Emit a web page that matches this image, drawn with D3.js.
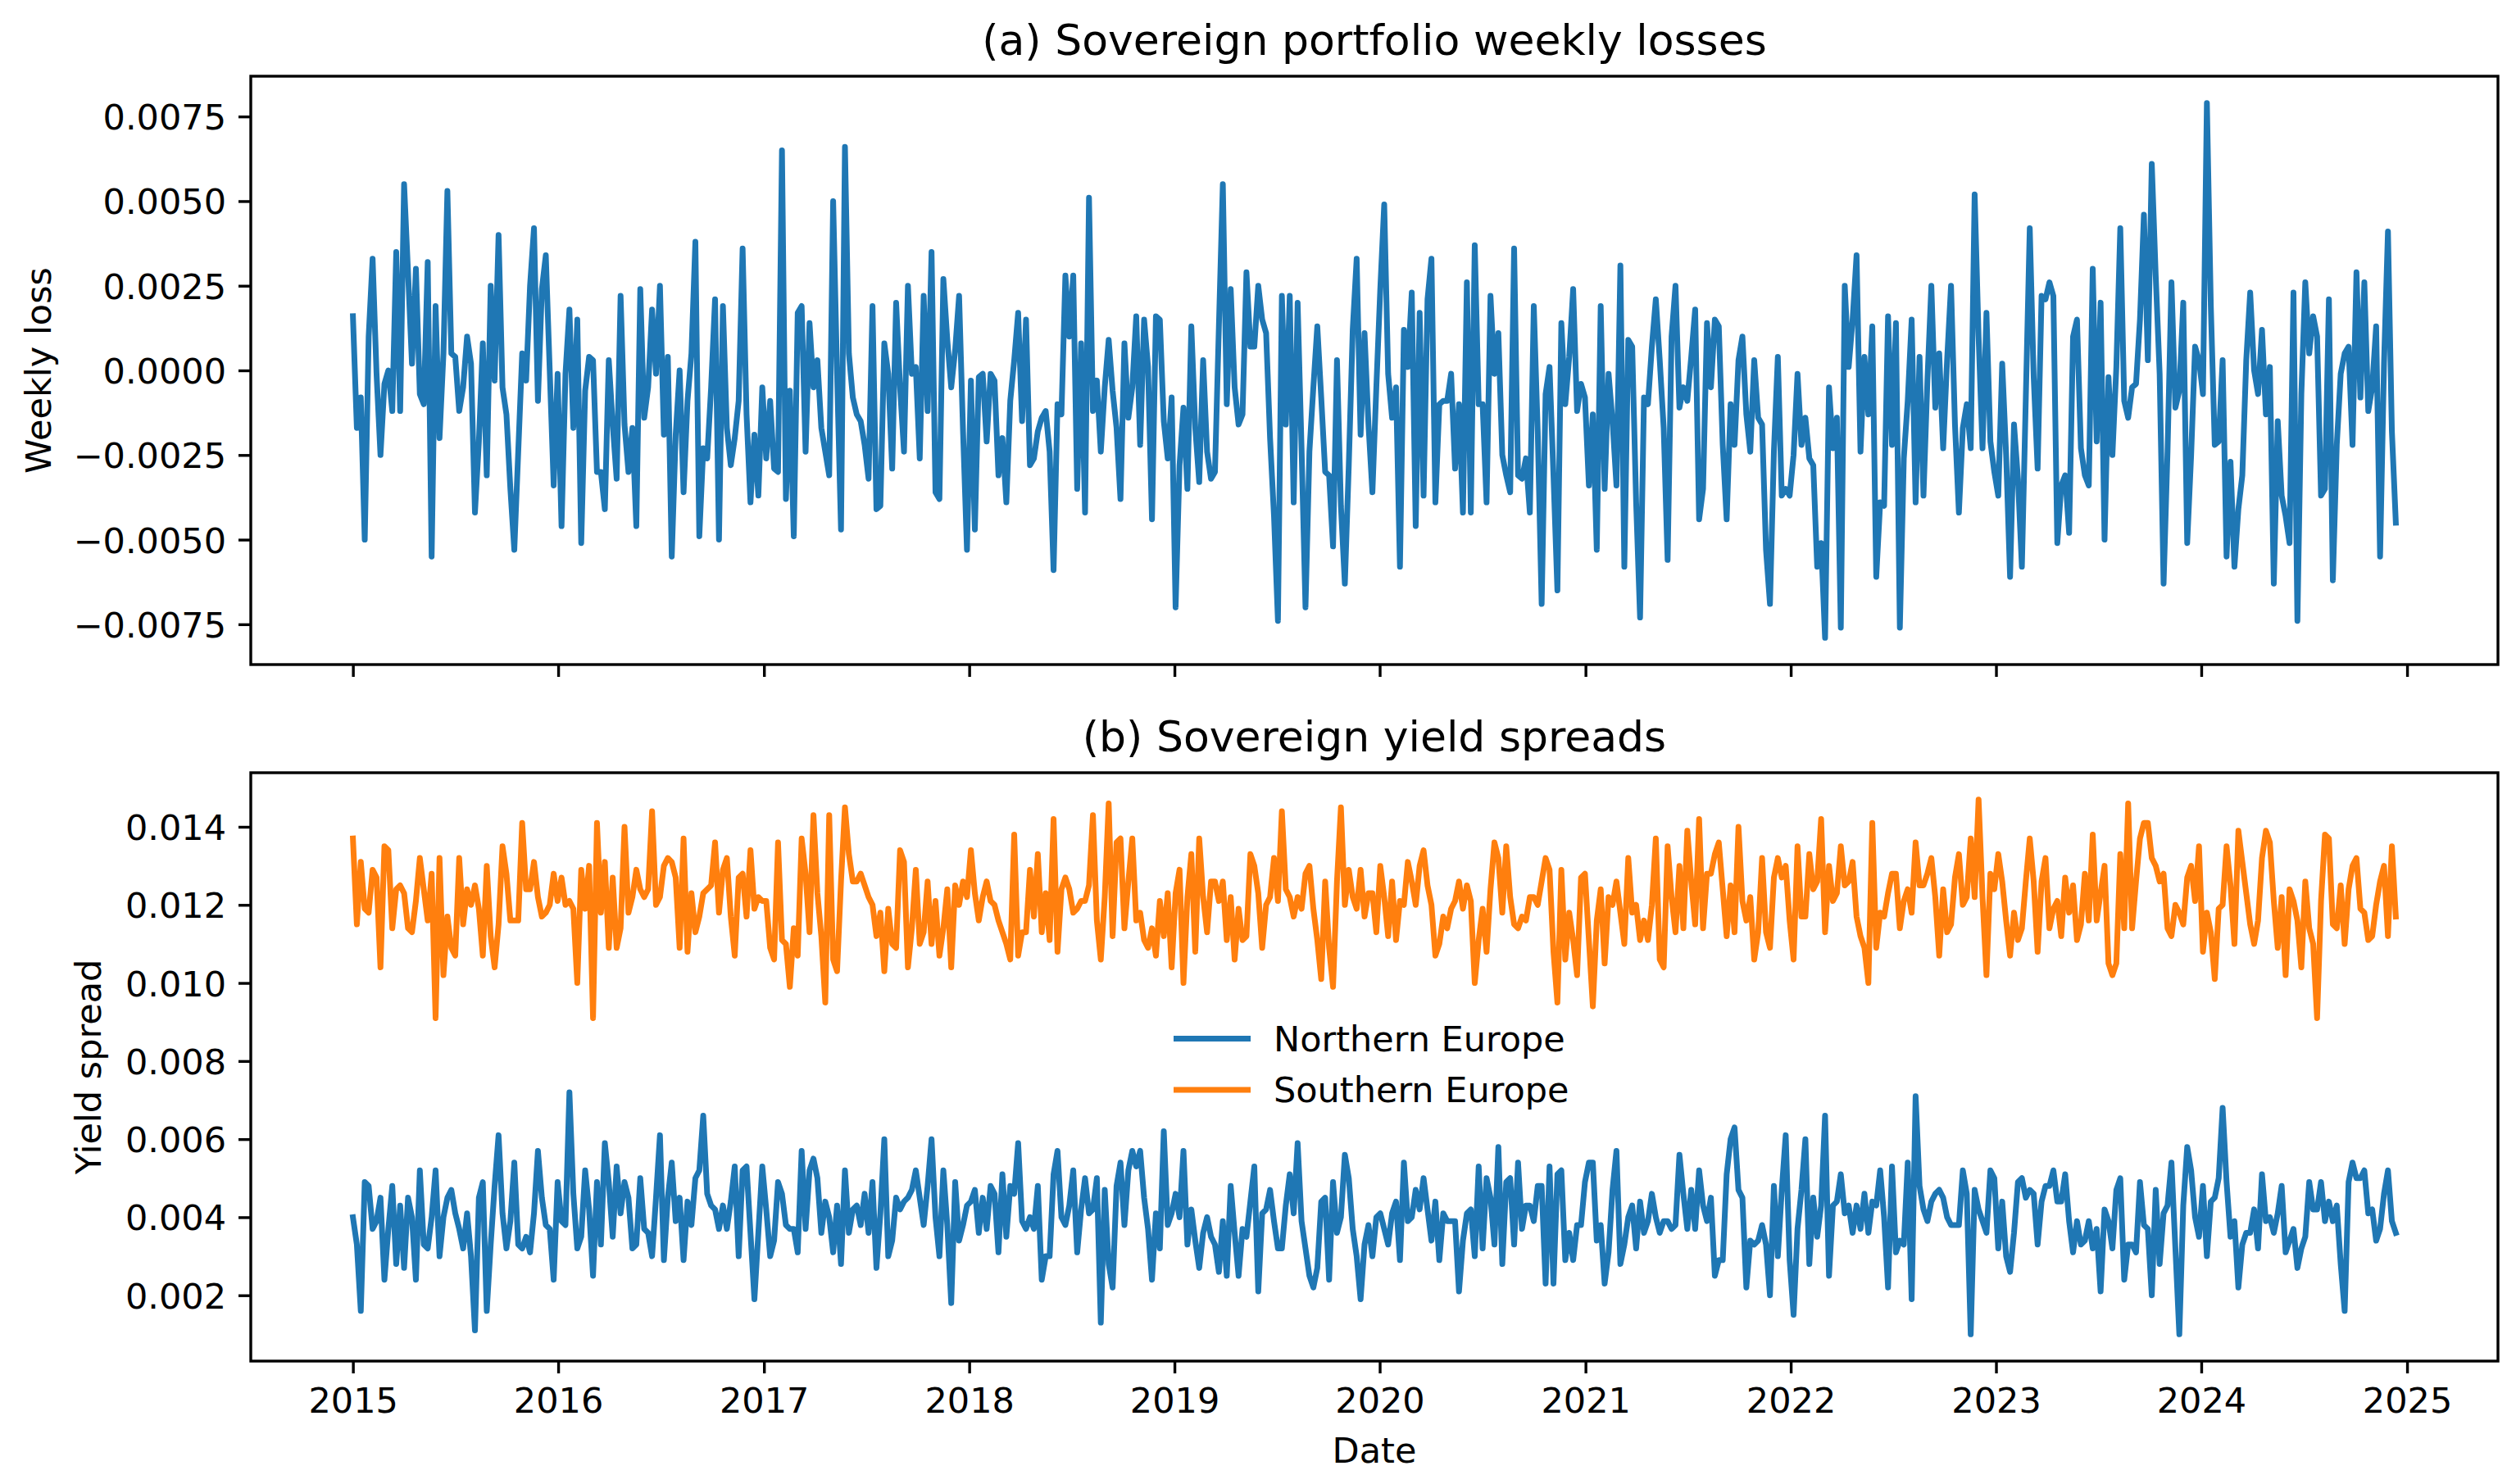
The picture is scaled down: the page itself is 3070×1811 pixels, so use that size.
<!DOCTYPE html>
<html>
<head>
<meta charset="utf-8">
<script src="https://cdn.jsdelivr.net/npm/d3@7"></script>
<style>
  html, body { margin: 0; padding: 0; background: #fff; }
  svg { display: block; font-family: "DejaVu Sans", sans-serif; }
</style>
</head>
<body>
<div id="chart"></div>
<script>
// weekly observations, first one on this date
const firstWeek = "2015-01-01";

// (a) portfolio weekly loss
const weeklyLoss = [
  0.0016,-0.0017,-0.0008,-0.0050,0.0010,0.0033,-0.0001,-0.0025,-0.0004,0.0000,
  -0.0012,0.0035,-0.0012,0.0055,0.0029,0.0002,0.0030,-0.0007,-0.0010,0.0032,
  -0.0055,0.0019,-0.0020,0.0005,0.0053,0.0005,0.0004,-0.0012,-0.0005,0.0010,
  0.0002,-0.0042,-0.0021,0.0008,-0.0031,0.0025,-0.0003,0.0040,-0.0005,-0.0013,
  -0.0035,-0.0053,-0.0024,0.0005,-0.0003,0.0025,0.0042,-0.0009,0.0024,0.0034,
  0.0000,-0.0034,-0.0001,-0.0046,-0.0001,0.0018,-0.0017,0.0015,-0.0051,-0.0006,
  0.0004,0.0003,-0.0030,-0.0030,-0.0041,0.0003,-0.0016,-0.0032,0.0022,-0.0016,
  -0.0030,-0.0017,-0.0046,0.0024,-0.0014,-0.0005,0.0018,-0.0001,0.0025,-0.0019,
  0.0004,-0.0055,-0.0019,0.0000,-0.0036,-0.0009,0.0005,0.0038,-0.0049,-0.0023,
  -0.0026,-0.0005,0.0021,-0.0050,0.0019,-0.0017,-0.0028,-0.0020,-0.0009,0.0036,
  -0.0013,-0.0039,-0.0019,-0.0037,-0.0005,-0.0026,-0.0009,-0.0029,-0.0030,0.0065,
  -0.0038,-0.0006,-0.0049,0.0017,0.0019,-0.0024,0.0014,-0.0005,0.0003,-0.0017,
  -0.0024,-0.0031,0.0050,-0.0001,-0.0047,0.0066,0.0005,-0.0008,-0.0013,-0.0015,
  -0.0022,-0.0032,
  0.0019,-0.0041,-0.0040,0.0008,-0.0001,-0.0029,0.0020,-0.0005,-0.0024,0.0025,
  -0.0001,0.0001,-0.0026,0.0022,-0.0012,0.0035,-0.0036,-0.0038,0.0027,0.0009,
  -0.0005,0.0006,0.0022,-0.0018,-0.0053,-0.0003,-0.0047,-0.0002,-0.0001,-0.0021,
  -0.0001,-0.0003,-0.0031,-0.0020,-0.0039,-0.0009,0.0003,0.0017,-0.0015,0.0015,
  -0.0028,-0.0026,-0.0018,-0.0014,-0.0012,-0.0024,-0.0059,-0.0010,-0.0013,0.0028,
  0.0010,0.0028,-0.0035,0.0008,-0.0042,0.0051,-0.0012,-0.0003,-0.0024,-0.0005,
  0.0009,-0.0006,-0.0017,-0.0038,0.0008,-0.0014,-0.0005,0.0016,-0.0022,0.0015,0.0001,
  -0.0044,0.0016,0.0015,-0.0015,-0.0026,-0.0008,-0.0070,-0.0028,-0.0011,-0.0035,
  0.0013,-0.0017,-0.0033,0.0003,-0.0024,-0.0032,-0.0030,0.0013,0.0055,-0.0010,
  0.0024,-0.0005,-0.0016,-0.0013,0.0029,0.0007,0.0007,0.0025,0.0015,0.0011,
  -0.0020,-0.0043,-0.0074,0.0022,-0.0016,0.0022,-0.0039,0.0020,-0.0023,-0.0070,
  -0.0024,-0.0005,0.0013,-0.0008,-0.0030,-0.0031,-0.0052,0.0003,-0.0040,-0.0063,
  -0.0028,0.0012,0.0033,-0.0019,0.0011,-0.0016,-0.0036,-0.0005,0.0024,0.0049,
  -0.0001,-0.0014,-0.0005,-0.0058,
  0.0012,0.0001,0.0023,-0.0046,0.0017,-0.0037,0.0021,0.0033,-0.0039,-0.0010,
  -0.0009,-0.0009,-0.0001,-0.0029,-0.0010,-0.0042,0.0026,-0.0042,0.0037,-0.0010,
  -0.0010,-0.0039,0.0022,-0.0001,0.0011,-0.0025,-0.0031,-0.0036,0.0036,-0.0031,
  -0.0032,-0.0026,-0.0042,0.0019,-0.0018,-0.0069,-0.0007,0.0001,-0.0031,-0.0065,
  0.0014,-0.0010,0.0004,0.0024,-0.0012,-0.0004,-0.0008,-0.0034,-0.0013,-0.0053,
  0.0019,-0.0035,-0.0001,-0.0015,-0.0034,0.0031,-0.0058,0.0009,0.0007,-0.0039,
  -0.0073,-0.0008,-0.0010,0.0007,0.0021,0.0003,-0.0017,-0.0056,0.0010,0.0025,
  -0.0011,-0.0005,-0.0009,0.0004,0.0018,-0.0044,-0.0035,0.0014,-0.0005,0.0015,
  0.0013,-0.0022,-0.0044,-0.0010,-0.0022,0.0003,0.0010,-0.0013,-0.0024,0.0003,
  -0.0014,-0.0016,-0.0053,-0.0069,-0.0024,0.0004,-0.0037,-0.0035,-0.0037,-0.0025,
  -0.0001,-0.0022,-0.0014,-0.0026,-0.0028,-0.0058,-0.0051,-0.0079,-0.0005,-0.0023,
  -0.0014,-0.0076,0.0025,0.0001,0.0015,0.0034,-0.0024,0.0004,-0.0013,0.0013,
  -0.0061,-0.0039,-0.0040,0.0016,-0.0022,0.0014,-0.0076,-0.0026,-0.0009,0.0015,
  -0.0039,0.0004,-0.0037,-0.0003,0.0025,
  -0.0011,0.0005,-0.0023,0.0003,0.0025,-0.0016,-0.0042,-0.0017,-0.0010,-0.0023,
  0.0052,0.0010,-0.0023,0.0017,-0.0021,-0.0030,-0.0037,0.0002,-0.0025,-0.0061,
  -0.0016,-0.0032,-0.0058,-0.0008,0.0042,-0.0002,-0.0029,0.0022,0.0021,0.0026,
  0.0022,-0.0051,-0.0034,-0.0031,-0.0048,0.0010,0.0015,-0.0023,-0.0031,-0.0034,
  0.0030,-0.0021,0.0020,-0.0050,-0.0002,-0.0025,0.0001,0.0042,-0.0009,-0.0014,
  -0.0005,-0.0004,0.0015,0.0046,0.0003,0.0061,0.0028,-0.0001,-0.0063,-0.0024,
  0.0026,-0.0011,-0.0006,0.0020,-0.0051,-0.0025,0.0007,0.0003,-0.0007,0.0079,
  0.0019,-0.0022,-0.0021,0.0003,-0.0055,-0.0027,-0.0058,-0.0041,-0.0031,0.0003,
  0.0023,0.0000,-0.0007,0.0012,-0.0013,0.0001,-0.0063,-0.0015,-0.0037,-0.0043,
  -0.0051,0.0023,-0.0074,-0.0007,0.0026,0.0005,0.0016,0.0010,-0.0037,-0.0035,
  0.0021,-0.0062,-0.0022,-0.0001,0.0005,0.0007,-0.0022,0.0029,-0.0008,0.0026,
  -0.0012,-0.0005,0.0013,-0.0055,0.0002,0.0041,-0.0018,-0.0045
];

// (b) Northern Europe yield spread
const northSpread = [
  0.0040,0.0033,0.0016,0.0049,0.0048,0.0037,0.0039,0.0045,0.0024,0.0037,
  0.0048,0.0028,0.0043,0.0027,0.0045,0.0040,0.0024,0.0052,0.0033,0.0032,
  0.0040,0.0052,0.0030,0.0040,0.0045,0.0047,0.0041,0.0037,0.0032,0.0041,
  0.0030,0.0011,0.0045,0.0049,0.0016,0.0033,0.0048,0.0061,0.0041,0.0032,
  0.0039,0.0054,0.0033,0.0032,0.0035,0.0031,0.0041,0.0057,0.0045,0.0038,
  0.0037,0.0024,0.0049,0.0039,0.0038,0.0072,0.0046,0.0032,0.0035,0.0052,
  0.0042,0.0025,0.0049,0.0033,0.0059,0.0049,0.0035,0.0053,0.0041,0.0049,
  0.0045,0.0032,0.0033,0.0050,0.0037,0.0036,0.0030,0.0045,0.0061,0.0029,
  0.0045,0.0054,0.0039,0.0045,0.0029,0.0044,0.0038,0.0050,0.0052,0.0066,
  0.0046,0.0043,0.0042,0.0037,0.0043,0.0037,0.0044,0.0053,0.0030,0.0052,
  0.0053,0.0036,0.0019,0.0036,0.0053,0.0042,0.0030,0.0034,0.0049,0.0046,
  0.0038,0.0037,0.0037,0.0031,0.0057,0.0037,0.0052,0.0055,0.0050,0.0036,
  0.0044,0.0040,0.0031,0.0043,0.0028,0.0052,0.0036,0.0042,0.0043,0.0038,
  0.0046,0.0036,
  0.0049,0.0027,0.0041,0.0060,0.0030,0.0034,0.0045,0.0042,0.0044,0.0045,
  0.0047,0.0052,0.0045,0.0038,0.0048,0.0060,0.0040,0.0030,0.0052,0.0038,
  0.0018,0.0049,0.0034,0.0038,0.0043,0.0044,0.0047,0.0036,0.0045,0.0037,
  0.0048,0.0046,0.0031,0.0051,0.0035,0.0048,0.0046,0.0059,0.0039,0.0037,
  0.0040,0.0037,0.0048,0.0024,0.0030,0.0030,0.0051,0.0057,0.0040,0.0038,
  0.0043,0.0052,0.0031,0.0042,0.0050,0.0041,0.0042,0.0050,0.0013,0.0047,
  0.0028,0.0022,0.0048,0.0054,0.0038,0.0052,0.0057,0.0053,0.0057,0.0045,
  0.0037,0.0024,0.0041,0.0032,0.0062,0.0038,0.0041,0.0046,0.0040,0.0057,
  0.0033,0.0042,0.0034,0.0027,0.0036,0.0040,0.0035,0.0033,0.0026,0.0039,
  0.0025,0.0048,0.0036,0.0025,0.0037,0.0035,0.0044,0.0053,0.0021,0.0041,
  0.0042,0.0047,0.0039,0.0032,0.0032,0.0043,0.0051,0.0041,0.0059,0.0039,
  0.0032,0.0025,0.0022,0.0027,0.0044,0.0045,0.0024,0.0049,0.0036,0.0040,
  0.0056,0.0050,0.0037,0.0030,0.0019,0.0033,0.0038,0.0030,0.0040,0.0041,
  0.0037,0.0033,0.0041,0.0044,0.0029,
  0.0054,0.0039,0.0040,0.0047,0.0042,0.0050,0.0042,0.0034,0.0044,0.0029,
  0.0041,0.0039,0.0039,0.0039,0.0021,0.0034,0.0041,0.0042,0.0030,0.0053,
  0.0032,0.0050,0.0045,0.0033,0.0058,0.0028,0.0049,0.0050,0.0033,0.0054,
  0.0037,0.0043,0.0043,0.0039,0.0048,0.0048,0.0023,0.0053,0.0023,0.0051,
  0.0052,0.0029,0.0036,0.0029,0.0038,0.0038,0.0049,0.0054,0.0054,0.0034,
  0.0038,0.0023,0.0031,0.0047,0.0057,0.0028,0.0033,0.0040,0.0043,0.0032,
  0.0044,0.0036,0.0039,0.0046,0.0040,0.0036,0.0039,0.0039,0.0037,0.0038,
  0.0056,0.0046,0.0037,0.0047,0.0037,0.0052,0.0043,0.0039,0.0045,0.0025,
  0.0029,0.0029,0.0051,0.0060,0.0063,0.0047,0.0045,0.0022,0.0034,0.0033,
  0.0034,0.0038,0.0033,0.0020,0.0048,0.0030,0.0047,0.0061,0.0029,0.0015,
  0.0037,0.0047,0.0060,0.0028,0.0045,0.0035,0.0043,0.0066,0.0025,0.0043,
  0.0044,0.0051,0.0041,0.0043,0.0036,0.0043,0.0037,0.0046,0.0036,0.0044,
  0.0043,0.0052,0.0040,0.0022,0.0053,0.0031,0.0034,0.0033,0.0054,0.0019,
  0.0071,0.0048,0.0042,0.0039,0.0044,
  0.0046,0.0047,0.0045,0.0040,0.0038,0.0038,0.0038,0.0052,0.0046,0.0010,
  0.0047,0.0042,0.0039,0.0036,0.0052,0.0050,0.0032,0.0044,0.0030,0.0026,
  0.0036,0.0049,0.0050,0.0045,0.0047,0.0046,0.0033,0.0044,0.0048,0.0048,
  0.0052,0.0044,0.0044,0.0051,0.0039,0.0031,0.0039,0.0033,0.0034,0.0039,
  0.0032,0.0037,0.0021,0.0042,0.0039,0.0032,0.0047,0.0050,0.0024,0.0033,
  0.0033,0.0031,0.0049,0.0038,0.0037,0.0020,0.0047,0.0028,0.0041,0.0043,
  0.0054,0.0032,0.0010,0.0043,0.0058,0.0052,0.0040,0.0035,0.0048,0.0030,
  0.0044,0.0045,0.0050,0.0068,0.0049,0.0035,0.0039,0.0022,0.0033,0.0036,
  0.0036,0.0042,0.0032,0.0051,0.0039,0.0040,0.0036,0.0041,0.0048,0.0031,
  0.0034,0.0037,0.0027,0.0032,0.0035,0.0049,0.0042,0.0042,0.0049,0.0039,
  0.0044,0.0039,0.0043,0.0028,0.0016,0.0049,0.0054,0.0050,0.0050,0.0052,
  0.0041,0.0042,0.0034,0.0037,0.0046,0.0052,0.0039,0.0036
];

// (b) Southern Europe yield spread
const southSpread = [
  0.0137,0.0115,0.0131,0.0119,0.0118,0.0129,0.0127,0.0104,0.0135,0.0134,
  0.0114,0.0124,0.0125,0.0123,0.0114,0.0113,0.0121,0.0132,0.0124,0.0116,
  0.0128,0.0091,0.0132,0.0102,0.0117,0.0109,0.0107,0.0132,0.0115,0.0124,
  0.0120,0.0125,0.0119,0.0107,0.0130,0.0112,0.0104,0.0115,0.0135,0.0128,
  0.0116,0.0116,0.0116,0.0141,0.0124,0.0124,0.0131,0.0122,0.0117,0.0118,
  0.0120,0.0128,0.0121,0.0127,0.0120,0.0121,0.0119,0.0100,0.0129,0.0119,
  0.0130,0.0091,0.0141,0.0118,0.0131,0.0109,0.0127,0.0109,0.0114,0.0140,
  0.0118,0.0122,0.0129,0.0124,0.0122,0.0124,0.0144,0.0120,0.0122,0.0130,
  0.0132,0.0131,0.0127,0.0109,0.0137,0.0108,0.0123,0.0113,0.0117,0.0123,
  0.0124,0.0125,0.0136,0.0118,0.0129,0.0132,0.0117,0.0107,0.0127,0.0128,
  0.0117,0.0134,0.0119,0.0122,0.0121,0.0121,0.0109,0.0106,0.0136,0.0111,
  0.0110,0.0099,0.0114,0.0107,0.0137,0.0128,0.0113,0.0143,0.0123,0.0112,
  0.0095,0.0143,0.0106,0.0103,0.0126,0.0145,0.0133,0.0126,0.0126,0.0128,
  0.0125,0.0122,
  0.0120,0.0112,0.0118,0.0103,0.0119,0.0110,0.0109,0.0134,0.0131,0.0104,
  0.0114,0.0129,0.0110,0.0113,0.0126,0.0110,0.0121,0.0107,0.0114,0.0124,
  0.0104,0.0125,0.0120,0.0126,0.0122,0.0134,0.0123,0.0116,0.0122,0.0126,
  0.0121,0.0120,0.0116,0.0113,0.0110,0.0106,0.0138,0.0107,0.0113,0.0113,0.0129,
  0.0117,0.0133,0.0113,0.0123,0.0111,0.0142,0.0108,0.0124,0.0127,0.0124,
  0.0118,0.0119,0.0121,0.0121,0.0125,0.0143,0.0116,0.0106,0.0122,0.0146,
  0.0112,0.0136,0.0137,0.0114,0.0126,0.0137,0.0116,0.0118,0.0111,0.0109,
  0.0114,0.0107,0.0121,0.0112,0.0123,0.0104,0.0123,0.0129,0.0100,0.0122,
  0.0133,0.0108,0.0137,0.0122,0.0113,0.0126,0.0126,0.0121,0.0126,0.0111,
  0.0122,0.0106,0.0119,0.0111,0.0112,0.0133,0.0130,0.0123,0.0109,0.0120,0.0122,
  0.0132,0.0121,0.0144,0.0124,0.0122,0.0117,0.0122,0.0119,0.0128,0.0130,
  0.0119,0.0111,0.0101,0.0126,0.0109,0.0099,0.0126,0.0145,0.0120,0.0129,
  0.0122,0.0119,0.0129,0.0117,0.0123,0.0123,0.0113,0.0130,0.0122,0.0112,
  0.0126,0.0111,0.0121,
  0.0120,0.0131,0.0126,0.0120,0.0130,0.0134,0.0125,0.0120,0.0107,0.0110,
  0.0117,0.0114,0.0119,0.0121,0.0126,0.0119,0.0125,0.0121,0.0100,0.0111,
  0.0119,0.0108,0.0124,0.0136,0.0132,0.0118,0.0135,0.0122,0.0115,0.0114,
  0.0117,0.0116,0.0122,0.0122,0.0120,0.0126,0.0132,0.0129,0.0108,0.0095,
  0.0129,0.0106,0.0118,0.0111,0.0102,0.0127,0.0128,0.0111,0.0094,0.0116,
  0.0124,0.0105,0.0122,0.0120,0.0126,0.0118,0.0110,0.0132,0.0118,0.0120,
  0.0111,0.0116,0.0111,0.0120,0.0137,0.0106,0.0104,0.0135,0.0122,0.0113,
  0.0130,0.0114,0.0139,0.0126,0.0115,0.0142,0.0114,0.0128,0.0128,0.0133,
  0.0136,0.0124,0.0112,0.0125,0.0113,0.0140,0.0121,0.0116,0.0122,0.0106,
  0.0113,0.0132,0.0113,0.0109,0.0127,0.0132,0.0127,0.0130,0.0116,0.0106,
  0.0135,0.0117,0.0117,0.0133,0.0124,0.0126,0.0142,0.0113,0.0130,0.0121,
  0.0123,0.0135,0.0125,0.0126,0.0131,0.0117,0.0112,0.0109,0.0100,0.0141,
  0.0109,0.0118,0.0117,0.0123,0.0128,0.0128,0.0114,0.0121,0.0124,0.0118,
  0.0136,0.0125,0.0125,0.0128,0.0132,
  0.0122,0.0107,0.0124,0.0113,0.0115,0.0127,0.0133,0.0120,0.0122,0.0137,
  0.0122,0.0147,0.0122,0.0102,0.0128,0.0124,0.0133,0.0126,0.0116,0.0107,
  0.0118,0.0111,0.0114,0.0126,0.0137,0.0126,0.0108,0.0126,0.0132,0.0114,
  0.0119,0.0121,0.0112,0.0127,0.0118,0.0125,0.0111,0.0115,0.0128,0.0116,
  0.0138,0.0116,0.0123,0.0130,0.0105,0.0102,0.0105,0.0133,0.0114,0.0146,
  0.0114,0.0126,0.0137,0.0141,0.0141,0.0132,0.0130,0.0126,0.0128,0.0114,
  0.0112,0.0120,0.0118,0.0115,0.0127,0.0130,0.0121,0.0135,0.0108,0.0118,
  0.0113,0.0101,0.0119,0.0120,0.0135,0.0125,0.0110,0.0139,0.0131,0.0123,
  0.0115,0.0110,0.0116,0.0132,0.0139,0.0136,0.0121,0.0109,0.0122,0.0102,
  0.0124,0.0121,0.0116,0.0104,0.0126,0.0114,0.0110,0.0091,0.0121,0.0138,
  0.0137,0.0115,0.0114,0.0125,0.0110,0.0124,0.0130,0.0132,0.0119,0.0118,
  0.0111,0.0112,0.0120,0.0126,0.0130,0.0112,0.0135,0.0117
];

const yearTicks = [2015, 2016, 2017, 2018, 2019, 2020, 2021, 2022, 2023, 2024, 2025];
const lossTicks = [-0.0075, -0.0050, -0.0025, 0.0000, 0.0025, 0.0050, 0.0075];
const spreadTicks = [0.002, 0.004, 0.006, 0.008, 0.010, 0.012, 0.014];
const legendNames = ["Northern Europe", "Southern Europe"];

// layout (pixels of the 3070x1811 page)
const width = 3070;
const height = 1811;
const left = 306;
const right = 3048;
const panelA = { top: 93, bottom: 811 };
const panelB = { top: 943, bottom: 1661 };
const fontSize = 43;
const titleSize = 52;
const lineWidth = 7;
const spineWidth = 3.4;
const tickLen = 15;
const tickPad = 15;
const blue = "#1f77b4";
const orange = "#ff7f0e";

const svg = d3.select("#chart").append("svg")
    .attr("width", width).attr("height", height)
    .attr("viewBox", `0 0 ${width} ${height}`);

svg.append("rect").attr("width", width).attr("height", height).attr("fill", "#fff");

const start = d3.utcParse("%Y-%m-%d")(firstWeek);
const weekDate = (i) => d3.utcDay.offset(start, 7 * i);

// matplotlib-like 5% margins
function padded(lo, hi) {
    const p = (hi - lo) * 0.05;
    return [lo - p, hi + p];
}

const n = Math.max(weeklyLoss.length, northSpread.length, southSpread.length);
const xDom = padded(+weekDate(0), +weekDate(n - 1));
const xScale = d3.scaleUtc()
    .domain([new Date(xDom[0]), new Date(xDom[1])])
    .range([left, right]);

const lossExt = d3.extent(weeklyLoss);
const yLoss = d3.scaleLinear()
    .domain(padded(lossExt[0], lossExt[1]))
    .range([panelA.bottom, panelA.top]);

const spreadAll = northSpread.concat(southSpread);
const ySpread = d3.scaleLinear()
    .domain(padded(d3.min(spreadAll), d3.max(spreadAll)))
    .range([panelB.bottom, panelB.top]);

const yearDates = yearTicks.map((y) => new Date(Date.UTC(y, 0, 1)));

function styleAxis(g) {
    g.select(".domain").remove();
    g.selectAll(".tick line").attr("stroke", "#000").attr("stroke-width", spineWidth);
    g.selectAll(".tick text")
        .attr("fill", "#000")
        .style("font-family", "'DejaVu Sans', sans-serif")
        .style("font-size", fontSize + "px");
}

function drawPanel(panel, yScale, yTicks, yFmt, showDates) {
    // x axis
    const xAxis = d3.axisBottom(xScale)
        .tickValues(yearDates)
        .tickSize(tickLen)
        .tickSizeOuter(0)
        .tickPadding(tickPad)
        .tickFormat(showDates ? d3.utcFormat("%Y") : () => "");
    svg.append("g")
        .attr("transform", `translate(0, ${panel.bottom})`)
        .call(xAxis)
        .call(styleAxis)
        .selectAll(".tick text").attr("dy", "0.76em");

    // y axis
    const yAxis = d3.axisLeft(yScale)
        .tickValues(yTicks)
        .tickSize(tickLen)
        .tickSizeOuter(0)
        .tickPadding(tickPad)
        .tickFormat(yFmt);
    svg.append("g")
        .attr("transform", `translate(${left}, 0)`)
        .call(yAxis)
        .call(styleAxis)
        .selectAll(".tick text").attr("dy", "0.36em");
}

function drawSeries(values, yScale, color) {
    const line = d3.line()
        .x((d, i) => xScale(weekDate(i)))
        .y((d) => yScale(d));
    svg.append("path")
        .datum(values)
        .attr("d", line)
        .attr("fill", "none")
        .attr("stroke", color)
        .attr("stroke-width", lineWidth)
        .attr("stroke-linejoin", "round")
        .attr("stroke-linecap", "square");
}

function drawFrame(panel) {
    svg.append("rect")
        .attr("x", left)
        .attr("y", panel.top)
        .attr("width", right - left)
        .attr("height", panel.bottom - panel.top)
        .attr("fill", "none")
        .attr("stroke", "#000")
        .attr("stroke-width", spineWidth);
}

// panel (a)
drawSeries(weeklyLoss, yLoss, blue);
drawPanel(panelA, yLoss, lossTicks, d3.format(".4f"), false);
drawFrame(panelA);

// panel (b)
drawSeries(northSpread, ySpread, blue);
drawSeries(southSpread, ySpread, orange);
drawPanel(panelB, ySpread, spreadTicks, d3.format(".3f"), true);
drawFrame(panelB);

const midX = (left + right) / 2;

svg.append("text")
    .attr("x", midX).attr("y", panelA.top - 26)
    .attr("text-anchor", "middle")
    .style("font-size", titleSize + "px")
    .text("(a) Sovereign portfolio weekly losses");

svg.append("text")
    .attr("x", midX).attr("y", panelB.top - 26)
    .attr("text-anchor", "middle")
    .style("font-size", titleSize + "px")
    .text("(b) Sovereign yield spreads");

svg.append("text")
    .attr("transform", `translate(62, ${(panelA.top + panelA.bottom) / 2}) rotate(-90)`)
    .attr("text-anchor", "middle")
    .style("font-size", fontSize + "px")
    .text("Weekly loss");

svg.append("text")
    .attr("transform", `translate(123, ${(panelB.top + panelB.bottom) / 2}) rotate(-90)`)
    .attr("text-anchor", "middle")
    .style("font-size", fontSize + "px")
    .text("Yield spread");

svg.append("text")
    .attr("x", midX).attr("y", 1785)
    .attr("text-anchor", "middle")
    .style("font-size", fontSize + "px")
    .text("Date");

// legend, no frame
const legendColors = [blue, orange];
const legendRows = [1267.5, 1330];
legendNames.forEach((name, i) => {
    svg.append("line")
        .attr("x1", 1432).attr("x2", 1526)
        .attr("y1", legendRows[i]).attr("y2", legendRows[i])
        .attr("stroke", legendColors[i])
        .attr("stroke-width", lineWidth);
    svg.append("text")
        .attr("x", 1554)
        .attr("y", legendRows[i])
        .attr("dy", "0.36em")
        .style("font-size", fontSize + "px")
        .text(name);
});
</script>
</body>
</html>
